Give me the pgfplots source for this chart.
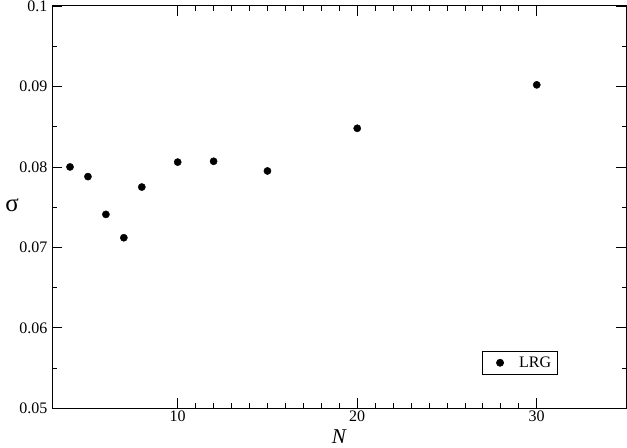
\documentclass[border=0pt]{standalone}
\usepackage{fontspec}
\setmainfont{Liberation Serif}
\usepackage{pgfplots}
\pgfplotsset{compat=1.18}
\begin{document}
\begin{tikzpicture}[x=1pt,y=1pt]
\begin{axis}[
  scale only axis,
  width=574pt, height=402pt,
  xmin=3, xmax=35, ymin=0.05, ymax=0.1,
  xtick={10,20,30}, minor x tick num=9,
  ytick={0.05,0.06,0.07,0.08,0.09,0.1}, minor y tick num=1,
  tick align=inside,
  major tick length=10pt, minor tick length=5pt,
  axis line style={line width=1pt},
  every tick/.style={black, line width=0.8pt},
  tick label style={font=\fontsize{16}{17}\selectfont},
  /pgf/number format/assume math mode=true,
  yticklabel style={/pgf/number format/fixed, /pgf/number format/precision=2, xshift=-1pt},
  xticklabel style={yshift=1pt},
  scaled y ticks=false,
  xlabel={\fontsize{21}{21}\selectfont\textit{N}},
  ylabel={\fontsize{25}{25}\selectfont σ},
  xlabel style={at={(axis description cs:0.5,0)}, anchor=north, yshift=-18pt},
  ylabel style={at={(axis description cs:0,0.505)}, anchor=center, rotate=-90, xshift=-40pt},
  legend style={at={(axis description cs:0.748,0.085)}, anchor=south west, draw=black, line width=0.6pt,
    font=\fontsize{16}{17}\selectfont, inner xsep=4pt, inner ysep=3pt},
  legend image code/.code={\path[draw=none] (0pt,0pt) -- (31pt,0pt); \path[#1, draw=none] plot[mark=*] coordinates {(14pt,0pt)};},
  legend cell align=left,
]
\addplot[only marks, mark=*, mark size=3.6pt, black] coordinates {
(4,0.0800) (5,0.0788) (6,0.0741) (7,0.0712) (8,0.0775)
(10,0.0806) (12,0.0807) (15,0.0795) (20,0.0848) (30,0.0902)
};
\addlegendentry{LRG}
\end{axis}
\pgfresetboundingbox
\path (current axis.south west)+(-52pt,-39pt) coordinate (bbA);
\path (current axis.north east)+(0.5pt,6pt) coordinate (bbB);
\useasboundingbox (bbA) rectangle (bbB);
\end{tikzpicture}
\end{document}
